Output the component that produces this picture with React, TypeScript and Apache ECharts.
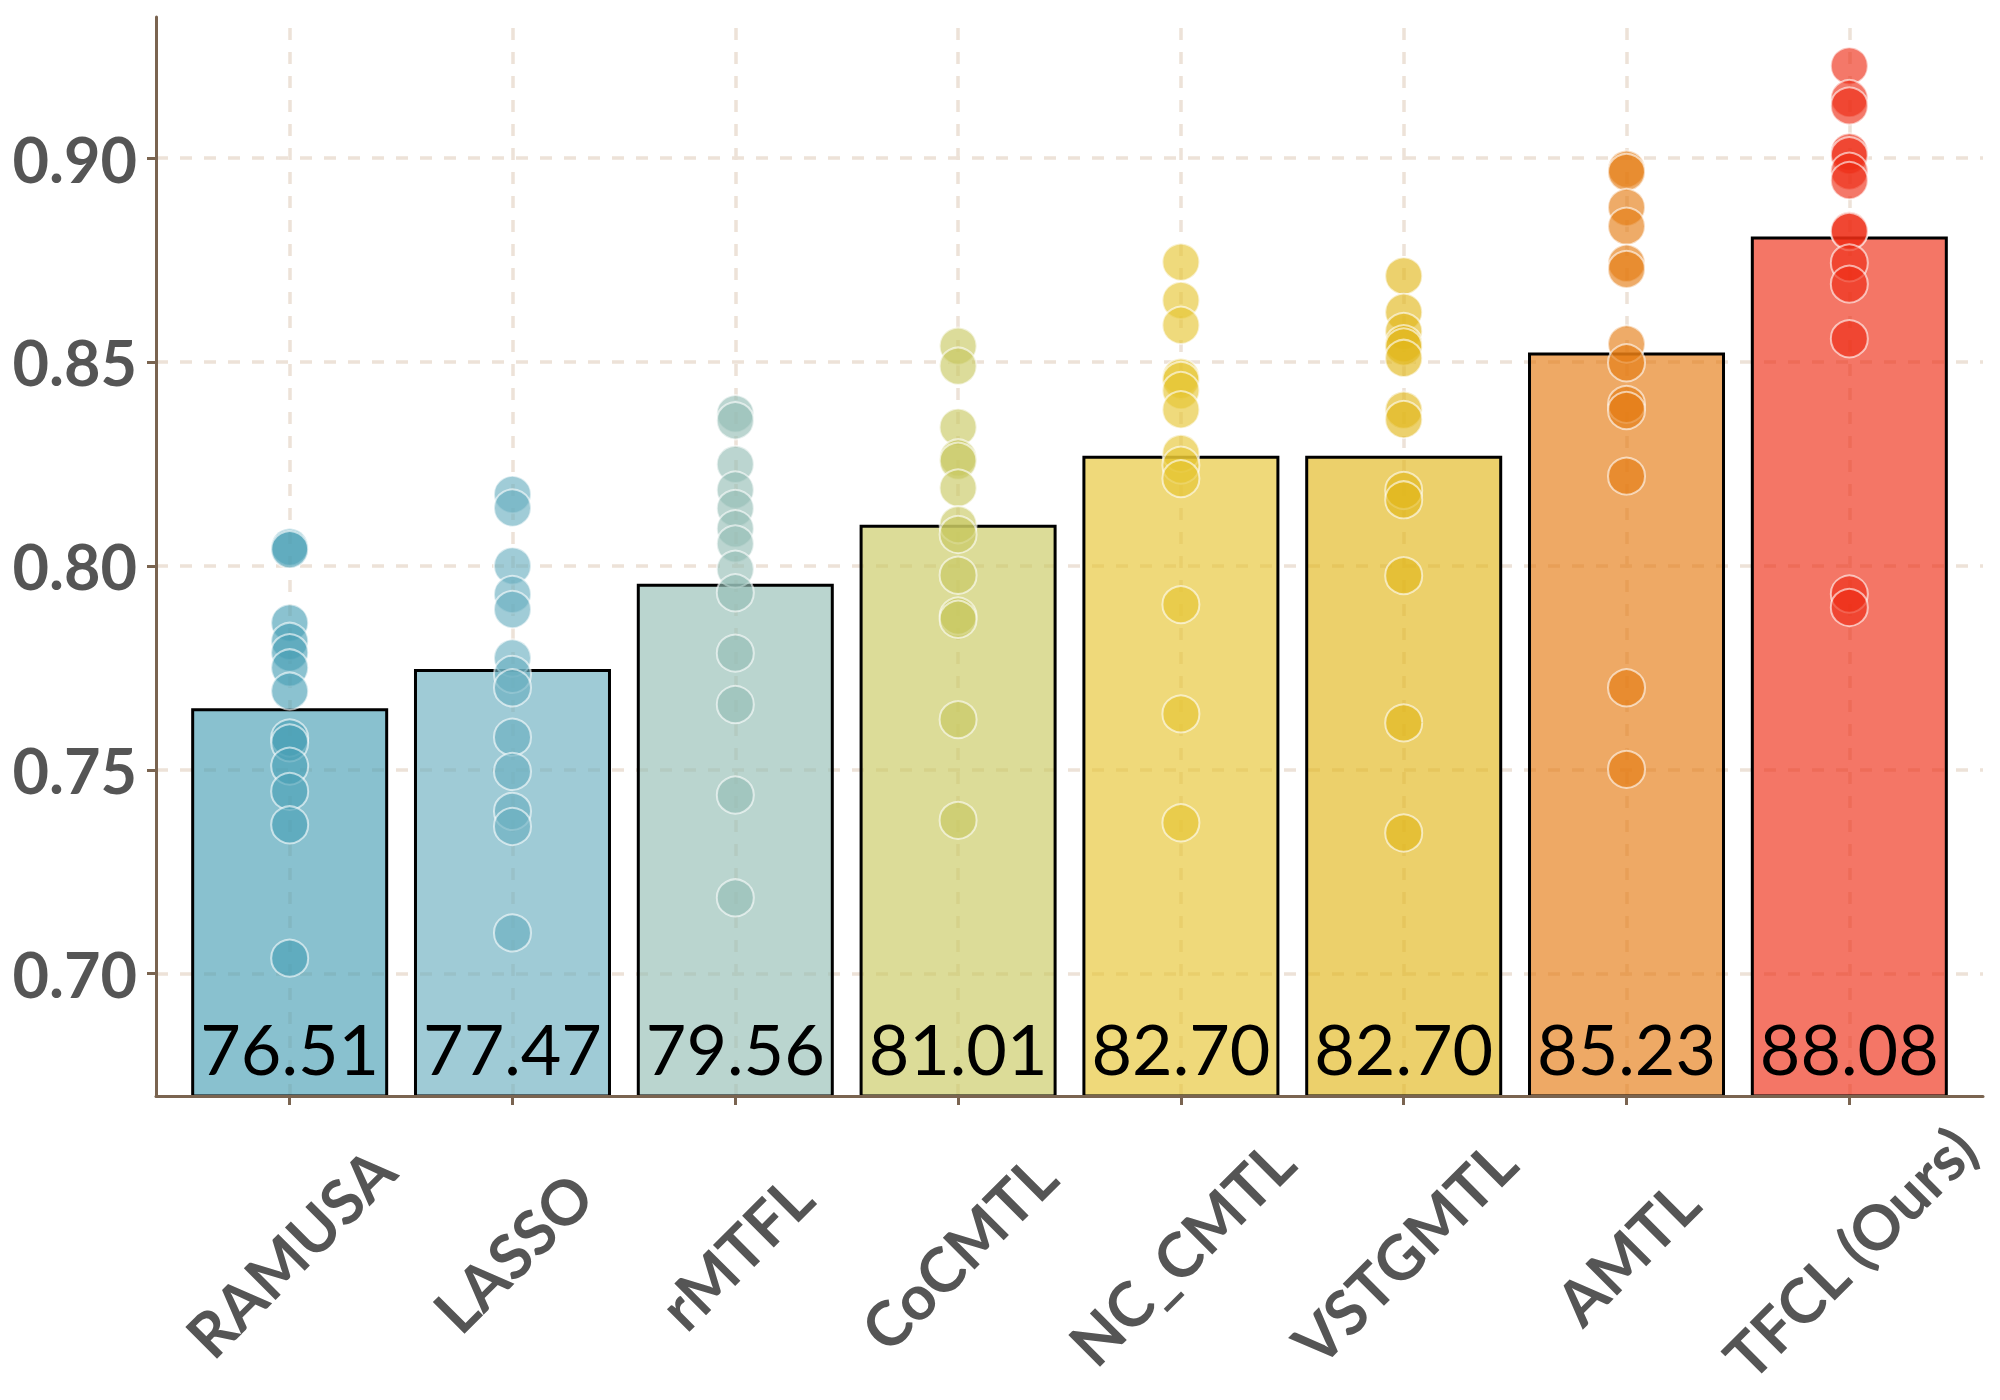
import React, { useEffect, useRef } from "react";
import * as echarts from "echarts";

const categories = ["RAMUSA", "LASSO", "rMTFL", "CoCMTL", "NC_CMTL", "VSTGMTL", "AMTL", "TFCL (Ours)"];
const barScores = [76.51, 77.47, 79.56, 81.01, 82.7, 82.7, 85.23, 88.08];
const yTicks = [0.7, 0.75, 0.8, 0.85, 0.9];
const baseColors = ["#49A0B5", "#6BAFC0", "#95BEB5", "#C9C961", "#E6C532", "#E2B71B", "#E57B12", "#EE2C14"];

const ptsRAMUSA = [0.8046, 0.804, 0.786, 0.7815, 0.7787, 0.775, 0.7693, 0.7578, 0.7566, 0.7509, 0.7447, 0.7365, 0.7038];
const ptsLASSO = [0.8175, 0.8142, 0.8, 0.793, 0.7893, 0.7774, 0.7734, 0.7701, 0.758, 0.7496, 0.7398, 0.7361, 0.71];
const ptsRMTFL = [0.8373, 0.8356, 0.8249, 0.8186, 0.8141, 0.8091, 0.8054, 0.7992, 0.7934, 0.7786, 0.766, 0.7438, 0.7186];
const ptsCoCMTL = [0.8539, 0.849, 0.834, 0.8265, 0.8257, 0.8191, 0.8101, 0.8077, 0.7977, 0.7877, 0.7869, 0.7623, 0.7376];
const ptsNCCMTL = [0.8745, 0.8651, 0.859, 0.8463, 0.8455, 0.843, 0.8383, 0.8276, 0.8247, 0.8214, 0.7905, 0.7637, 0.737];
const ptsVSTGMTL = [0.8711, 0.8622, 0.8575, 0.8545, 0.8537, 0.8509, 0.8382, 0.8359, 0.8185, 0.8162, 0.7976, 0.7615, 0.7345];
const ptsAMTL = [0.8973, 0.8965, 0.8879, 0.8833, 0.8742, 0.8727, 0.8544, 0.8498, 0.8396, 0.8381, 0.822, 0.7701, 0.7501];
const ptsTFCL = [0.9226, 0.9146, 0.9128, 0.9015, 0.9006, 0.8968, 0.8945, 0.8823, 0.882, 0.8743, 0.8691, 0.8557, 0.7931, 0.7898];

const pointSets = [ptsRAMUSA, ptsLASSO, ptsRMTFL, ptsCoCMTL, ptsNCCMTL, ptsVSTGMTL, ptsAMTL, ptsTFCL];

const AXIS = "#7A6450";
const GRID = "#EDE2D8";
const LABEL = "#555555";

function rgba(hex: string, a: number) {
  const n = parseInt(hex.slice(1), 16);
  return `rgba(${(n >> 16) & 255},${(n >> 8) & 255},${n & 255},${a})`;
}

export default function App() {
  const ref = useRef<HTMLDivElement>(null);

  useEffect(() => {
    if (!ref.current) return;
    const chart = echarts.init(ref.current, undefined, { renderer: "svg" });
    const idx = categories.map((_, i) => i);

    const barData = barScores.map((s, i) => ({
      value: [i, s / 100],
      itemStyle: { color: rgba(baseColors[i], 0.65) },
    }));
    const scatterData: any[] = [];
    pointSets.forEach((arr, i) => {
      arr.forEach((v) => scatterData.push({ value: [i, v], itemStyle: { color: rgba(baseColors[i], 0.8) } }));
    });

    const option: any = {
      animation: false,
      backgroundColor: "#ffffff",
      grid: { left: 156, right: 17, top: 17, bottom: 304, containLabel: false },
      xAxis: {
        type: "value",
        min: -0.6,
        max: 7.6,
        z: 5,
        axisLine: { show: true, onZero: false, lineStyle: { color: AXIS, width: 3 } },
        axisTick: { show: true, customValues: idx, length: 9, lineStyle: { color: AXIS, width: 3 } },
        axisLabel: {
          customValues: idx,
          formatter: (v: number) => categories[Math.round(v)] ?? "",
          rotate: 45,
          align: "center",
          verticalAlign: "middle",
          margin: 156,
          fontFamily: "Lato",
          fontWeight: "bold",
          fontSize: 62,
          color: LABEL,
        },
        splitLine: { show: false },
      },
      yAxis: {
        type: "value",
        min: 0.67,
        max: 0.9346,
        z: 5,
        axisLine: { show: true, onZero: false, lineStyle: { color: AXIS, width: 3 } },
        axisTick: { show: true, customValues: yTicks, length: 9, lineStyle: { color: AXIS, width: 3 } },
        axisLabel: {
          customValues: yTicks,
          formatter: (v: number) => v.toFixed(2),
          margin: 19,
          fontFamily: "Lato",
          fontWeight: "bold",
          fontSize: 63,
          color: LABEL,
        },
        splitLine: { show: false },
      },
      series: [
        {
          type: "line",
          data: [],
          z: 1,
          silent: true,
          markLine: {
            z: 1,
            silent: true,
            symbol: ["none", "none"],
            label: { show: false },
            lineStyle: { color: GRID, width: 3.5, type: [12, 12] },
            data: [...yTicks.map((v) => ({ yAxis: v })), ...idx.map((i) => ({ xAxis: i }))],
          },
        },
        {
          type: "bar",
          z: 2,
          barWidth: 197,
          data: barData,
          itemStyle: { borderColor: "#000000", borderWidth: 3 },
          label: {
            show: true,
            position: "insideBottom",
            distance: 15,
            formatter: (p: any) => barScores[p.dataIndex].toFixed(2),
            fontFamily: "Lato",
            fontSize: 70,
            color: "#000000",
          },
        },
        {
          type: "scatter",
          z: 3,
          symbolSize: 37,
          data: scatterData,
          itemStyle: { borderColor: "rgba(255,255,255,0.75)", borderWidth: 2 },
        },
      ],
    };
    chart.setOption(option);
    return () => chart.dispose();
  }, []);

  return (
    <div
      ref={ref}
      style={{ position: "absolute", left: 0, top: 0, width: 2000, height: 1400, background: "#fff" }}
    />
  );
}
